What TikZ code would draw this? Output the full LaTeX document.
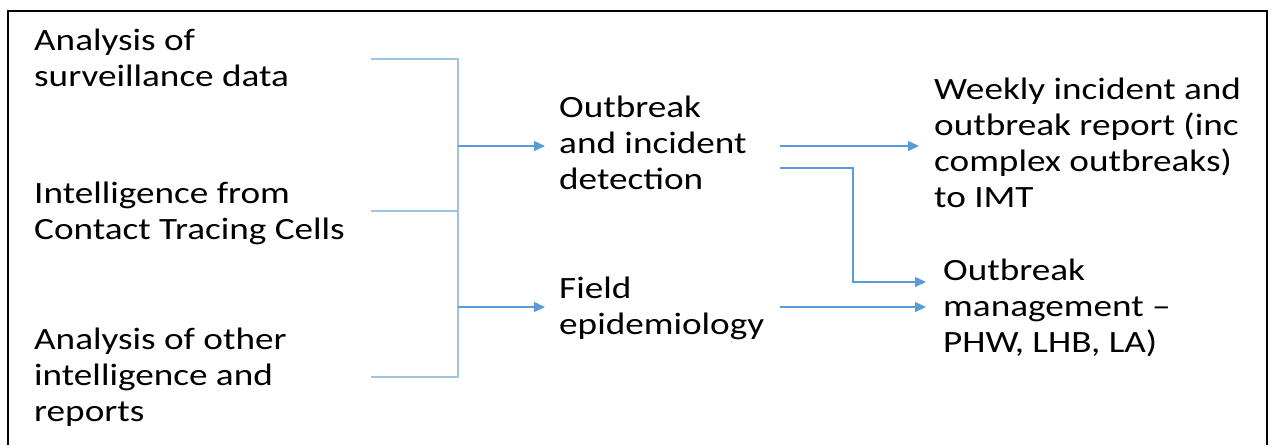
\documentclass[tikz,border=0pt]{standalone}
\usepackage{fontspec}
\setmainfont{Carlito}[FakeStretch=1.2]
\usetikzlibrary{arrows.meta}
\definecolor{arrowblue}{HTML}{5B9BD5}
\definecolor{lightblue}{HTML}{9DC3E6}
\begin{document}
\begin{tikzpicture}[x=1pt,y=-1pt,
  txt/.style={anchor=base west,inner sep=0pt,align=left,font=\fontsize{31}{36}\selectfont},
  feed/.style={draw=lightblue,line width=1.6pt},
  flow/.style={draw=arrowblue,line width=1.3pt,-{Triangle[length=11pt,width=10pt]}}]
\useasboundingbox (0,0) rectangle (1274,445);
\draw[line width=2.4pt] (8,445) -- (8,11) -- (1267,11) -- (1267,445);
% left inputs (anchored at last baseline)
\node[txt] (a1) at (34,86) {Analysis of\\surveillance data};
\node[txt] (a2) at (34,239) {Intelligence from\\Contact Tracing Cells};
\node[txt] (a3) at (34,421) {Analysis of other\\intelligence and\\reports};
% middle
\node[txt] (det) at (559,189) {Outbreak\\and incident\\detection};
\node[txt] (fld) at (559,334) {Field\\epidemiology};
% right
\node[txt] (wk) at (934,207) {Weekly incident and\\outbreak report (inc\\complex outbreaks)\\to IMT};
\node[txt] (om) at (943,352) {Outbreak\\management –\\PHW, LHB, LA)};
% connector points
\coordinate (s1) at (371,59);
\coordinate (s2) at (371,211);
\coordinate (s3) at (371,377);
\coordinate (j1) at (458,146);
\coordinate (j2) at (458,307);
\coordinate (t1) at (545,146);
\coordinate (t2) at (545,307);
\coordinate (d1) at (780,146);
\coordinate (d2) at (780,168);
\coordinate (f1) at (780,307);
\coordinate (w1) at (919,146);
\coordinate (o1) at (926,282);
\coordinate (o2) at (926,307);
% bracket
\draw[feed] (s1) -| (j1);
\draw[feed] (s2) -| (j1);
\draw[feed] (s3) -| (j2);
\draw[feed] (j1) -- (j2);
\draw[flow] (j1) -- (t1);
\draw[flow] (j2) -- (t2);
% outputs
\draw[flow] (d1) -- (w1);
\draw[flow] (d2) -- (853,168) |- (o1);
\draw[flow] (f1) -- (o2);
\end{tikzpicture}
\end{document}
